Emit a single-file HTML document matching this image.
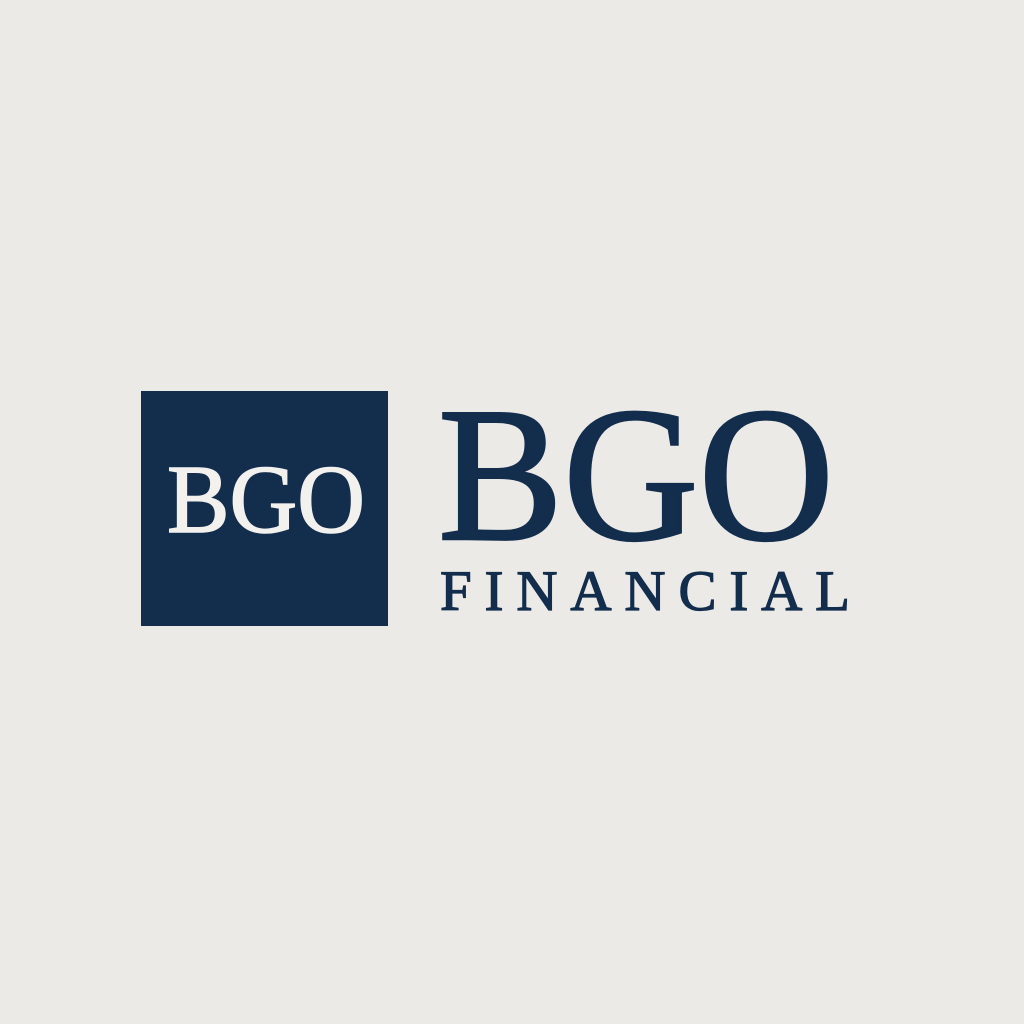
<!DOCTYPE html>
<html><head><meta charset="utf-8"><style>
html,body{margin:0;padding:0;background:#ECEAE6;}
svg{display:block;}
</style></head><body>
<svg width="1024" height="1024" viewBox="0 0 1024 1024">
<rect x="0" y="0" width="1024" height="1024" fill="#ECEAE6"/>
<rect x="141" y="391" width="247" height="235" fill="#132D4D"/>
<text x="167" y="532" font-family="Liberation Serif, serif" font-size="98" fill="#F2F1EE" stroke="#F2F1EE" stroke-width="1.5" textLength="198" lengthAdjust="spacingAndGlyphs">BGO</text>
<text x="438" y="539" font-family="Liberation Serif, serif" font-size="192" fill="#132D4D" stroke="#132D4D" stroke-width="2.5" textLength="396" lengthAdjust="spacingAndGlyphs">BGO</text>
<text x="440" y="610" font-family="Liberation Serif, serif" font-size="57" fill="#132D4D" stroke="#132D4D" stroke-width="1.2" textLength="410" lengthAdjust="spacing">FINANCIAL</text>
</svg>
</body></html>
